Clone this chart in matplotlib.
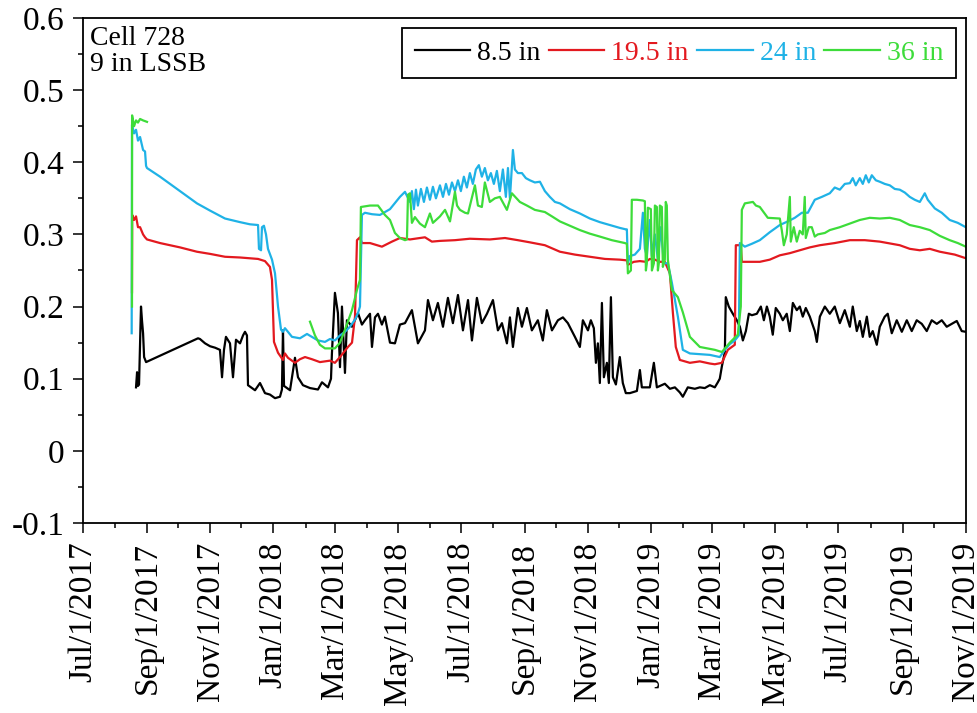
import matplotlib
matplotlib.use("Agg")
import matplotlib.pyplot as plt
import matplotlib.dates as mdates
from matplotlib.ticker import MultipleLocator, FuncFormatter
import numpy as np
import pandas as pd

plt.rcParams["font.family"] = ["Liberation Serif", "DejaVu Serif"]
plt.rcParams["axes.unicode_minus"] = False

# days counted from 7/1/2017, water content values
start = pd.Timestamp("2017-07-01")

days_85 = [51.2, 52.2, 53.1, 54.1, 55.1, 56, 57, 58, 59, 60.9, 111.1,
           113, 117.9, 122.7, 127.5, 132.3, 134.3, 136.2, 138.1, 142, 144.9,
           147.8, 151.7, 154.6, 156.5, 158.4, 159.4, 166.2, 169.1, 171, 175.8,
           180.6, 185.5, 190.3, 192.2, 193.2, 194.2, 200, 204.8, 207.7, 212.5,
           219.3, 227, 230.9, 236.7, 239.6, 240.5, 243.4, 246.3, 248.3, 250.2,
           253.1, 255, 259.9, 265.7, 269.5, 272.4, 277.3, 279.2, 282.1, 285,
           288.8, 291.7, 296.6, 301.4, 306.2, 311.1, 317.8, 323.6, 330.4, 333.3,
           338.1, 342.9, 347.8, 352.6, 357.4, 362.3, 367.1, 372, 375.8, 380.6,
           385.4, 390.3, 396.1, 400.9, 404.8, 409.6, 412.5, 415.4, 420.2, 424.1,
           428.9, 433.7, 439.5, 444.3, 448.2, 453.1, 458.9, 463.7, 468.5, 475.3,
           480.1, 483, 487.9, 490.7, 493.6, 495.6, 497.5, 499.4, 501.4, 503.3,
           506.2, 508.1, 510.1, 512, 514.9, 518.7, 521.6, 524.5, 528.4, 535.2,
           538.1, 540, 547.7, 551.6, 554.5, 562.2, 567.1, 571.9, 576.7, 579.6,
           584.4, 591.2, 596, 600.8, 605.7, 610.5, 613.4, 615.3, 617.3, 620.2,
           621.1, 624, 627.9, 631.8, 634.7, 637.6, 640.5, 643.4, 646.3, 651.1,
           655, 657.9, 660.8, 663.6, 666.5, 669.4, 673.3, 676.2, 680, 683,
           685.9, 689.7, 692.6, 695.5, 698.4, 702.3, 707.1, 709.1, 712, 716.8,
           721.6, 726.4, 731.3, 736.1, 741, 743.8, 747.7, 750.6, 753.5, 757.4,
           760.2, 763.1, 767, 769.9, 774.7, 777.6, 781.5, 786.3, 791.2, 796,
           800.8, 805.6, 810.5, 815.3, 820.1, 825, 829.8, 834.6, 839.5, 844.3,
           849.1, 853]
vals_85 = [0.088, 0.109, 0.09, 0.092, 0.15, 0.2, 0.18, 0.163, 0.13, 0.123, 0.156,
           0.155, 0.149, 0.145, 0.143, 0.14, 0.102, 0.14, 0.158, 0.149, 0.102,
           0.154, 0.149, 0.16, 0.165, 0.16, 0.091, 0.084, 0.09, 0.094, 0.08,
           0.078, 0.073, 0.075, 0.085, 0.167, 0.09, 0.084, 0.129, 0.102, 0.091,
           0.087, 0.085, 0.095, 0.088, 0.1, 0.135, 0.219, 0.191, 0.116, 0.2,
           0.108, 0.181, 0.172, 0.191, 0.175, 0.181, 0.19, 0.144, 0.185, 0.19,
           0.175, 0.186, 0.15, 0.149, 0.175, 0.177, 0.195, 0.149, 0.167, 0.209,
           0.181, 0.205, 0.172, 0.212, 0.177, 0.216, 0.167, 0.209, 0.153, 0.212,
           0.177, 0.19, 0.209, 0.167, 0.177, 0.149, 0.185, 0.144, 0.198, 0.172,
           0.198, 0.167, 0.181, 0.153, 0.195, 0.167, 0.181, 0.185, 0.177, 0.158,
           0.144, 0.181, 0.167, 0.181, 0.17, 0.122, 0.149, 0.094, 0.205, 0.102,
           0.122, 0.094, 0.213, 0.102, 0.092, 0.13, 0.094, 0.08, 0.08, 0.083,
           0.112, 0.088, 0.088, 0.122, 0.088, 0.093, 0.086, 0.088, 0.081, 0.075,
           0.088, 0.086, 0.088, 0.087, 0.091, 0.088, 0.095, 0.1, 0.117, 0.137,
           0.213, 0.2, 0.19, 0.181, 0.172, 0.153, 0.166, 0.19, 0.188, 0.19,
           0.2, 0.181, 0.2, 0.186, 0.161, 0.198, 0.19, 0.181, 0.19, 0.166,
           0.205, 0.195, 0.2, 0.186, 0.198, 0.186, 0.166, 0.151, 0.186, 0.2,
           0.19, 0.2, 0.177, 0.195, 0.172, 0.2, 0.166, 0.18, 0.158, 0.186,
           0.158, 0.166, 0.147, 0.172, 0.186, 0.19, 0.163, 0.181, 0.165, 0.181,
           0.166, 0.181, 0.176, 0.166, 0.181, 0.176, 0.181, 0.172, 0.176, 0.18,
           0.166, 0.165]

days_195 = [47.3, 47.5, 49.3, 51.2, 53.1, 55.1, 58, 59.9, 61.8, 74.4, 93.7,
            110, 122.7, 137.2, 151.7, 169.1, 175.8, 180.6, 182.6, 184.5, 188.4,
            193.2, 195.1, 198, 204.8, 209.6, 214.5, 221.2, 228.9, 238.6, 243.4,
            248.3, 256, 259.9, 262.8, 264.7, 267.6, 269.5, 277.3, 288.8, 298.5,
            306.2, 315.9, 330.4, 337.1, 344.9, 359.4, 373.8, 393.1, 407.7, 420.2,
            431.8, 446.3, 460.8, 475.3, 489.8, 504.3, 518.7, 525.5, 526.5, 532.3,
            538.1, 543.9, 547.7, 552.6, 557.4, 562.2, 567.1, 570, 572.8, 576.7,
            586.4, 596, 605.7, 610.5, 617.3, 623.1, 629.8, 630.8, 635.6, 636.6,
            654, 663.6, 673.3, 683, 692.6, 702.3, 712, 726.4, 741, 755.4,
            769.9, 789.2, 798.9, 808.6, 818.2, 827.9, 842.4, 853]
vals_195 = [0.22, 0.327, 0.32, 0.325, 0.31, 0.31, 0.3, 0.296, 0.293, 0.288, 0.282,
            0.276, 0.273, 0.269, 0.268, 0.266, 0.263, 0.255, 0.237, 0.151, 0.136,
            0.126, 0.135, 0.129, 0.122, 0.127, 0.13, 0.127, 0.123, 0.125, 0.122,
            0.13, 0.144, 0.15, 0.186, 0.292, 0.296, 0.288, 0.288, 0.283, 0.29,
            0.295, 0.293, 0.296, 0.29, 0.291, 0.292, 0.294, 0.293, 0.295, 0.292,
            0.289, 0.285, 0.276, 0.272, 0.269, 0.266, 0.265, 0.264, 0.258, 0.262,
            0.263, 0.262, 0.266, 0.265, 0.262, 0.262, 0.246, 0.191, 0.144, 0.126,
            0.122, 0.124, 0.121, 0.12, 0.122, 0.14, 0.147, 0.285, 0.285, 0.262,
            0.262, 0.265, 0.271, 0.274, 0.278, 0.282, 0.285, 0.288, 0.292, 0.292,
            0.29, 0.285, 0.28, 0.278, 0.28, 0.276, 0.272, 0.267]

days_24 = [47, 47.3, 49.3, 51.2, 53.1, 55.1, 58, 59.9, 60.9, 61.8, 74.4, 93.7,
           110.1, 122.7, 137.2, 151.7, 161.3, 169.1, 170, 172, 172.9, 174.8,
           176.8, 178.7, 182.6, 185.5, 188.4, 191.3, 193.2, 195.1, 198, 201.9,
           209.6, 216.4, 221.2, 227, 233.8, 238.6, 243.4, 248.3, 253.1, 257.9,
           262.8, 265.7, 267.6, 269.5, 272.4, 279.2, 286.9, 296.6, 306.2, 311.1,
           315.9, 317.8, 319.7, 321.7, 323.6, 326.5, 329.4, 332.3, 335.2, 338.1,
           341, 344.9, 347.8, 350.7, 353.6, 356.5, 359.4, 362.3, 365.1, 368,
           370.9, 373.8, 376.7, 379.6, 382.5, 385.4, 388.3, 391.2, 394.1, 397,
           399.9, 402.8, 405.7, 408.6, 410.6, 412.5, 414.4, 415.4, 417.3, 420.2,
           424.1, 427.9, 431.8, 436.6, 441.5, 446.3, 451.1, 456, 460.8, 470.4,
           480.1, 489.8, 499.4, 509.1, 518.7, 524.5, 525.5, 526.5, 528.4, 533.2,
           538.1, 541, 542.9, 544.8, 547.7, 549.7, 552.6, 555.5, 558.3, 561.2,
           565.1, 569, 574.8, 579.6, 586.4, 596, 605.7, 615.3, 620.2, 625,
           629.8, 633.7, 634.7, 639.5, 646.3, 654, 663.6, 673.3, 681, 687.8,
           694.6, 700.4, 707.1, 713.9, 721.6, 726.4, 731.3, 736.1, 741, 743.8,
           746.7, 750.6, 753.5, 756.4, 759.3, 762.2, 766.1, 769.9, 774.7, 779.6,
           784.4, 789.2, 794.1, 798.9, 803.7, 808.6, 813.4, 816.3, 823.1, 829.8,
           837.5, 845.3, 853]
vals_24 = [0.163, 0.452, 0.44, 0.445, 0.43, 0.435, 0.417, 0.415, 0.395, 0.392,
           0.38, 0.36, 0.343, 0.333, 0.322, 0.317, 0.314, 0.313, 0.28, 0.278,
           0.31, 0.312, 0.3, 0.28, 0.265, 0.246, 0.2, 0.168, 0.165, 0.17, 0.165,
           0.158, 0.156, 0.162, 0.158, 0.153, 0.151, 0.155, 0.153, 0.16, 0.165,
           0.172, 0.182, 0.191, 0.2, 0.327, 0.33, 0.328, 0.327, 0.335, 0.352,
           0.359, 0.345, 0.36, 0.335, 0.362, 0.34, 0.363, 0.345, 0.365, 0.348,
           0.366, 0.35, 0.368, 0.352, 0.37, 0.355, 0.372, 0.36, 0.375, 0.36,
           0.38, 0.365, 0.385, 0.37, 0.39, 0.396, 0.38, 0.392, 0.375, 0.385,
           0.37, 0.388, 0.36, 0.39, 0.352, 0.392, 0.35, 0.395, 0.417, 0.39,
           0.385, 0.385, 0.378, 0.375, 0.372, 0.373, 0.36, 0.352, 0.345, 0.343,
           0.335, 0.329, 0.322, 0.317, 0.313, 0.309, 0.307, 0.307, 0.26, 0.27,
           0.272, 0.28, 0.33, 0.28, 0.27, 0.32, 0.27, 0.3, 0.265, 0.31, 0.26,
           0.26, 0.233, 0.186, 0.14, 0.135, 0.134, 0.133, 0.13, 0.14, 0.148,
           0.153, 0.16, 0.288, 0.283, 0.287, 0.292, 0.303, 0.313, 0.318, 0.323,
           0.33, 0.33, 0.348, 0.352, 0.357, 0.365, 0.362, 0.37, 0.371, 0.378,
           0.368, 0.378, 0.37, 0.382, 0.372, 0.382, 0.375, 0.373, 0.37, 0.368,
           0.363, 0.362, 0.358, 0.352, 0.348, 0.345, 0.357, 0.348, 0.336, 0.33,
           0.32, 0.316, 0.31]

days_36 = [47.3, 47.4, 49.3, 51.2, 53.1, 55.1, 58, 61.8, 62.5,
           219.3, 224.1, 228.9, 233.8, 243.4, 248.3, 253.1, 259.9, 264.7, 267.6,
           268.5, 277.3, 285, 291.7, 296.6, 301.4, 306.2, 311.1, 313, 314,
           315.9, 317.8, 320.7, 325.5, 330.4, 335.2, 338.1, 344.9, 349.8, 354.6,
           359.4, 361.4, 364.2, 369.1, 372, 378.7, 381.6, 385.4, 388.3, 393.1,
           397.9, 402.8, 409.6, 414.4, 422.1, 428.9, 436.6, 446.3, 453.1, 460.8,
           470.4, 480.1, 489.8, 499.4, 511, 523.6, 525.5, 526.5, 529.4, 530.3,
           535.2, 541, 542.9, 543.9, 544.8, 545.8, 548.7, 549.7, 551.6, 552.6,
           554.5, 555.5, 556.4, 557.4, 559.3, 560.3, 562.2, 563.1, 564.1, 565.1,
           569, 574.8, 579.6, 586.4, 596, 610.5, 617.3, 625, 632.7, 635.6,
           636.6, 639.5, 647.3, 650.2, 654, 661.7, 673.3, 675.2, 677.2, 680,
           683, 683.9, 686.8, 689.7, 692.6, 695.5, 697.4, 698.4, 701.3, 704.2,
           707.1, 710, 716.8, 721.6, 731.3, 741, 750.6, 760.2, 769.9, 779.6,
           789.2, 798.9, 808.6, 818.2, 827.9, 837.5, 845.3, 853]
vals_36 = [0.2, 0.465, 0.45, 0.458, 0.455, 0.46, 0.458, 0.456, np.nan,
           0.179, 0.16, 0.147, 0.142, 0.142, 0.15, 0.168, 0.195, 0.223, 0.237,
           0.338, 0.34, 0.34, 0.327, 0.32, 0.302, 0.295, 0.292, 0.293, 0.355,
           0.357, 0.316, 0.324, 0.315, 0.31, 0.329, 0.316, 0.325, 0.334, 0.318,
           0.359, 0.34, 0.334, 0.33, 0.329, 0.368, 0.34, 0.338, 0.372, 0.345,
           0.35, 0.352, 0.334, 0.357, 0.345, 0.34, 0.334, 0.331, 0.325, 0.318,
           0.312, 0.306, 0.301, 0.297, 0.292, 0.288, 0.287, 0.246, 0.25, 0.348,
           0.348, 0.347, 0.346, 0.25, 0.26, 0.337, 0.335, 0.25, 0.26, 0.34,
           0.338, 0.25, 0.26, 0.34, 0.338, 0.255, 0.265, 0.345, 0.34, 0.265,
           0.223, 0.213, 0.192, 0.158, 0.144, 0.14, 0.137, 0.15, 0.161, 0.2,
           0.334, 0.343, 0.345, 0.34, 0.338, 0.323, 0.322, 0.306, 0.285, 0.3,
           0.352, 0.29, 0.31, 0.29, 0.305, 0.3, 0.352, 0.295, 0.31, 0.31,
           0.297, 0.3, 0.302, 0.306, 0.31, 0.315, 0.32, 0.323, 0.322, 0.323,
           0.32, 0.313, 0.31, 0.306, 0.298, 0.292, 0.288, 0.283]

series = [
    ("8.5 in", days_85, vals_85, "black"),
    ("19.5 in", days_195, vals_195, "#e3191f"),
    ("24 in", days_24, vals_24, "#1fb2e6"),
    ("36 in", days_36, vals_36, "#3ddc3a"),
]

fig = plt.figure(figsize=(9.77, 7.13), dpi=100)
ax = fig.add_axes([0.085, 0.2665, 0.9035, 0.7083])

for label, days, vals, color in series:
    dates = start + pd.to_timedelta(np.array(days), unit="D")
    ax.plot(dates, vals, color=color, linewidth=1.6, label=label)

ax.set_xlim(pd.Timestamp("2017-07-01"), pd.Timestamp("2019-11-01"))
ax.set_ylim(-0.1, 0.6)

ax.yaxis.set_major_locator(MultipleLocator(0.1))
ax.yaxis.set_minor_locator(MultipleLocator(0.05))
ax.yaxis.set_major_formatter(
    FuncFormatter(lambda v, p: "0" if abs(v) < 1e-9 else f"{v:.1f}"))

ax.xaxis.set_major_locator(mdates.MonthLocator(bymonth=[1, 3, 5, 7, 9, 11]))
ax.xaxis.set_minor_locator(mdates.MonthLocator())
ax.xaxis.set_major_formatter(
    FuncFormatter(lambda v, p: "{0:%b}/{0.day}/{0.year}".format(mdates.num2date(v))))

ax.tick_params(axis="both", which="major", direction="out", length=7.5,
               width=1.1, labelsize=24, pad=6)
ax.tick_params(axis="both", which="minor", direction="out", length=3.8, width=1.1)
ax.tick_params(axis="x", which="major", labelrotation=90)
for lab in ax.get_xticklabels():
    lab.set_horizontalalignment("center")
for sp in ax.spines.values():
    sp.set_linewidth(1.3)

ax.text(0.008, 0.985, "Cell 728\n9 in LSSB", transform=ax.transAxes,
        fontsize=20, va="top", ha="left", linespacing=1.1)

leg = ax.legend(loc="upper right", ncol=4, fontsize=20, frameon=True,
                fancybox=False, edgecolor="black", framealpha=1,
                handlelength=2.0, handletextpad=0.25, columnspacing=0.3,
                borderpad=0.45, borderaxespad=0.0,
                bbox_to_anchor=(0.9887, 0.981))
leg.get_frame().set_linewidth(1.3)
for txt, (_, _, _, color) in zip(leg.get_texts(), series):
    txt.set_color(color)

fig.savefig("out.png", dpi=100)
